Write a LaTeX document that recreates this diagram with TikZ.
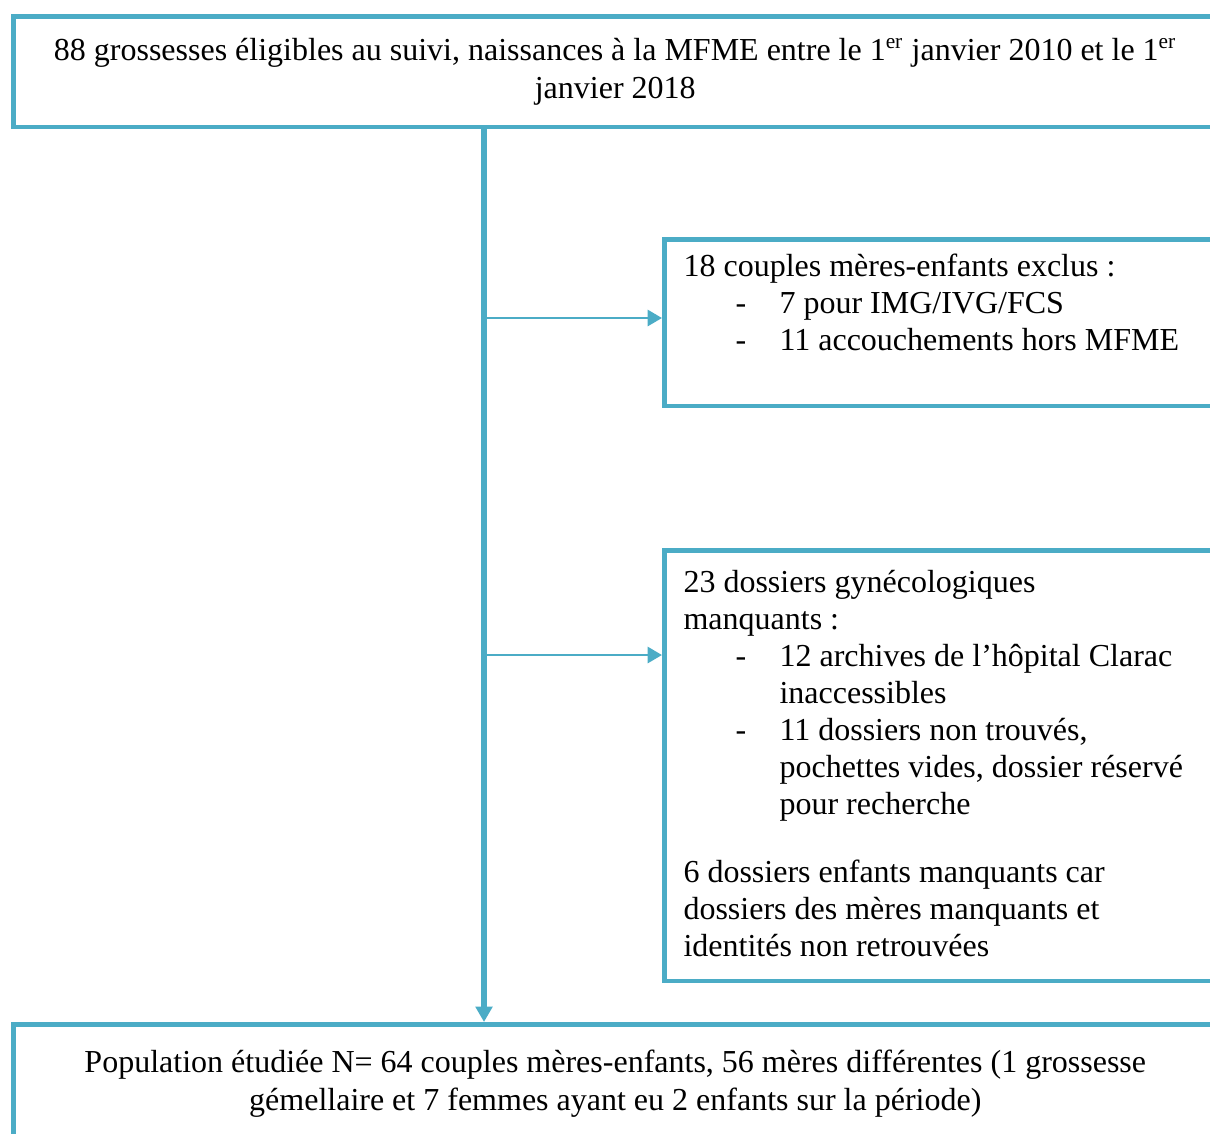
\documentclass[tikz,border=0pt]{standalone}
\usepackage{fontspec}
\setmainfont{Liberation Serif}
\usetikzlibrary{positioning}
\usetikzlibrary{arrows.meta}
\definecolor{flowblue}{HTML}{4BACC6}
\tikzset{flowbox/.style={ % Boxes of the flow chart
    draw=flowblue,
    line width=1.7pt,
    rectangle,
    inner sep=0pt,
    anchor=north west,
    font=\fontsize{12}{14.2}\selectfont},
    flowtext/.style={inner sep=0pt, anchor=north west, align=left,
    font=\fontsize{12}{13.875}\selectfont},
    mainline/.style={draw=flowblue, line width=1.9pt,
    -{Triangle[length=5.8pt,width=6.2pt]}}, % Main downward flow
    sideline/.style={draw=flowblue, line width=1.1pt,
    -{Triangle[length=5.4pt,width=6pt]}}} % Exclusions to the right

\newcommand{\dashitem}{\hspace*{19.5pt}\makebox[16.5pt][l]{-}}
\newcommand{\itemcont}{\hspace*{36pt}}

\begin{document}
\begin{tikzpicture}[x=0.375pt, y=-0.375pt]
        % Page frame, boxes run off the right edge
        \useasboundingbox (0,0) rectangle (1210,1133);
        \clip (0,0) rectangle (1210,1133);

        % Eligible pregnancies
        \node[flowbox, minimum width=451.5pt, minimum height=41.6pt, align=center] (eligible) at (11,14)
            {88 grossesses éligibles au suivi, naissances à la MFME entre le 1\textsuperscript{er} janvier 2010 et le 1\textsuperscript{er}\\ janvier 2018};

        % Excluded couples
        \node[flowbox, minimum width=214pt, minimum height=62.6pt] (excluded) at (662,237) {};
        \node[flowtext] (excludedtxt) at (683,253)
            {18 couples mères-enfants exclus :\\
             \dashitem 7 pour IMG/IVG/FCS\\
             \dashitem 11 accouchements hors MFME};

        % Missing files
        \node[flowbox, minimum width=214pt, minimum height=161.6pt] (missing) at (662,548) {};
        \node[flowtext] (missingtxt) at (683,570)
            {23 dossiers gynécologiques\\
             manquants :\\
             \dashitem 12 archives de l’hôpital Clarac\\
             \itemcont inaccessibles\\
             \dashitem 11 dossiers non trouvés,\\
             \itemcont pochettes vides, dossier réservé\\
             \itemcont pour recherche\\[11.6pt]
             6 dossiers enfants manquants car\\
             dossiers des mères manquants et\\
             identités non retrouvées};

        % Studied population
        \node[flowbox, minimum width=451.5pt, minimum height=44.3pt, align=center] (population) at (11,1022)
            {Population étudiée N= 64 couples mères-enfants, 56 mères différentes (1 grossesse\\
             gémellaire et 7 femmes ayant eu 2 enfants sur la période)};

        % Arrows
        \coordinate (spine) at (484,0);
        \coordinate (exclrow) at (0,318);
        \coordinate (missrow) at (0,655);
        \draw[mainline] (spine |- eligible.south) -- (spine |- population.north);
        \draw[sideline] (spine |- exclrow) -- (excluded.west |- exclrow);
        \draw[sideline] (spine |- missrow) -- (missing.west |- missrow);

    \end{tikzpicture}
\end{document}
